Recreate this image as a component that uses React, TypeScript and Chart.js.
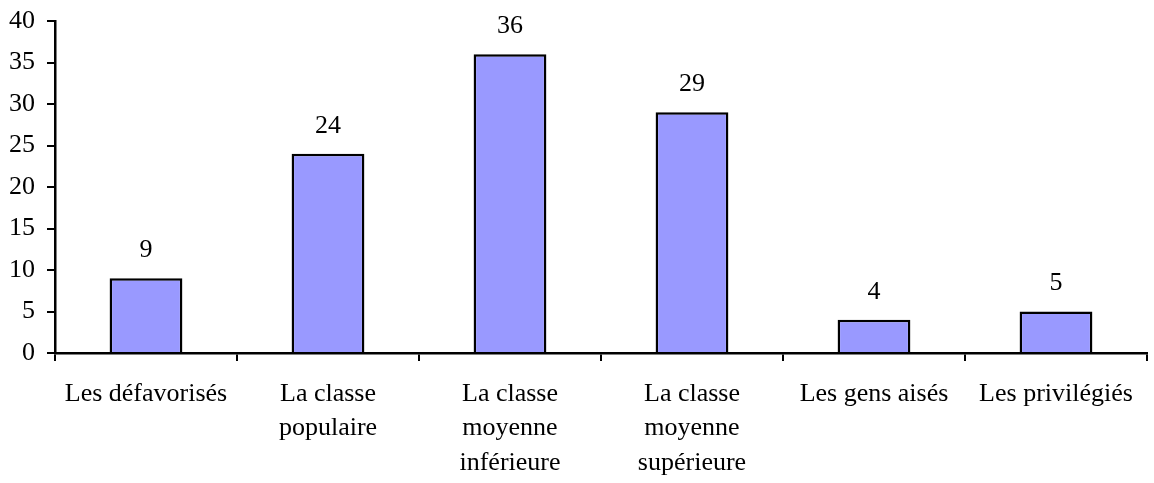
import React, { useEffect, useRef } from "react";
import { Chart, registerables } from "chart.js";

Chart.register(...registerables);

const categories: string[][] = [
  ["Les défavorisés"],
  ["La classe", "populaire"],
  ["La classe", "moyenne", "inférieure"],
  ["La classe", "moyenne", "supérieure"],
  ["Les gens aisés"],
  ["Les privilégiés"],
];
const values: number[] = [9, 24, 36, 29, 4, 5];
const yMin = 0;
const yMax = 40;
const yStep = 5;

const FONT = '"Liberation Serif", "Times New Roman", serif';

const valueLabels = {
  id: "valueLabels",
  afterDatasetsDraw(chart: any) {
    const ctx = chart.ctx;
    const meta = chart.getDatasetMeta(0);
    ctx.save();
    ctx.font = `26px ${FONT}`;
    ctx.fillStyle = "#000";
    ctx.textAlign = "center";
    ctx.textBaseline = "middle";
    meta.data.forEach((bar: any, i: number) => {
      ctx.fillText(String(values[i]), bar.x, bar.y - 28);
    });
    ctx.restore();
  },
};

export default function App() {
  const ref = useRef<HTMLCanvasElement | null>(null);
  useEffect(() => {
    if (!ref.current) return;
    const chart = new Chart(ref.current, {
      type: "bar",
      data: {
        labels: categories,
        datasets: [
          {
            data: values,
            backgroundColor: "#9999FF",
            borderColor: "#000000",
            borderWidth: 2.5,
            barPercentage: 0.4,
            categoryPercentage: 1,
          },
        ],
      },
      options: {
        responsive: false,
        animation: false,
        layout: { padding: { top: 21, right: 7, left: 0, bottom: 0 } },
        plugins: { legend: { display: false }, tooltip: { enabled: false } },
        scales: {
          x: {
            grid: {
              offset: true,
              drawOnChartArea: false,
              drawTicks: true,
              tickLength: 8,
              color: "#000",
              lineWidth: 2,
            },
            border: { display: true, color: "#000", width: 2.5 },
            ticks: {
              color: "#000",
              padding: 16,
              autoSkip: false,
              maxRotation: 0,
              font: { family: FONT, size: 26, lineHeight: 1.32 },
            },
            afterFit: (scale: any) => {
              scale.height = 130;
              scale.paddingLeft = 0;
              scale.paddingRight = 0;
            },
          },
          y: {
            min: yMin,
            max: yMax,
            grid: {
              drawOnChartArea: false,
              drawTicks: true,
              tickLength: 8,
              color: "#000",
              lineWidth: 2,
            },
            border: { display: true, color: "#000", width: 2.5 },
            ticks: {
              stepSize: yStep,
              color: "#000",
              padding: 12,
              font: { family: FONT, size: 26 },
            },
            afterFit: (scale: any) => {
              scale.width = 55;
              scale.paddingTop = 0;
              scale.paddingBottom = 0;
            },
          },
        },
      },
      plugins: [valueLabels],
    });
    return () => chart.destroy();
  }, []);
  return (
    <div style={{ position: "absolute", left: 0, top: 0, width: 1154, height: 483, background: "#fff" }}>
      <canvas ref={ref} width={1154} height={483} />
    </div>
  );
}
